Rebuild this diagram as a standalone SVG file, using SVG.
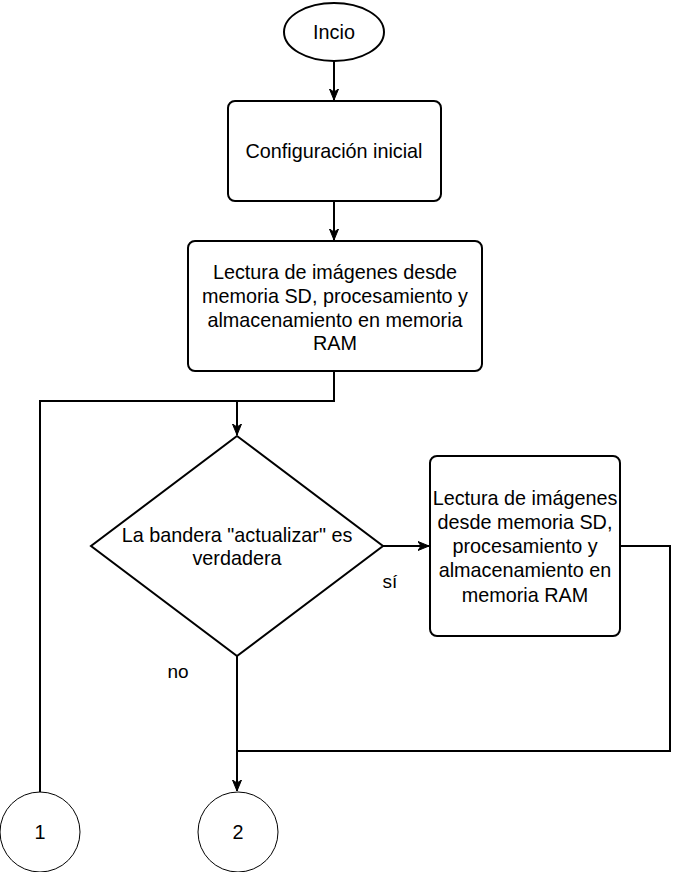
<svg xmlns="http://www.w3.org/2000/svg" width="680" height="872" viewBox="0 0 680 872">
<style>
.shape{fill:#fff;stroke:#000;stroke-width:2}
.thin{fill:#fff;stroke:#000;stroke-width:1}
.conn{fill:none;stroke:#000;stroke-width:2}
text{font-family:"Liberation Sans",Arial,sans-serif;font-size:19.8px;fill:#000;text-anchor:middle}
.lbl{font-size:19px}
</style>
<defs>
<marker id="arr" markerUnits="userSpaceOnUse" markerWidth="12" markerHeight="10" refX="11" refY="5" orient="auto">
<path d="M0,0.5 L11,5 L0,9.5 L3,5 Z" fill="#000" stroke="#000" stroke-width="1"/>
</marker>
</defs>
<rect width="680" height="872" fill="#fff"/>
<g id="connectors">
<line class="conn" x1="334" y1="61" x2="334" y2="100" marker-end="url(#arr)"/>
<line class="conn" x1="334" y1="201" x2="334" y2="240" marker-end="url(#arr)"/>
<polyline class="conn" points="334,371 334,401 40,401 40,792"/>
<line class="conn" x1="237" y1="401" x2="237" y2="435" marker-end="url(#arr)"/>
<line class="conn" x1="383" y1="546" x2="429" y2="546" marker-end="url(#arr)"/>
<polyline class="conn" points="620,546 670,546 670,751 238,751"/>
<line class="conn" x1="237" y1="656" x2="237" y2="791" marker-end="url(#arr)"/>
<text class="lbl" x="390" y="588">sí</text>
<text class="lbl" x="178" y="678">no</text>
</g>
<g id="inicio">
<ellipse class="shape" cx="334" cy="32" rx="50" ry="29"/>
<text x="334" y="39">Incio</text>
</g>
<g id="config">
<rect class="shape" x="228" y="101" width="213" height="100" rx="7"/>
<text x="334" y="158">Configuración inicial</text>
</g>
<g id="lectura1">
<rect class="shape" x="188" y="241" width="294" height="130" rx="7"/>
<text x="335" y="279">Lectura de imágenes desde</text>
<text x="335" y="302.7">memoria SD, procesamiento y</text>
<text x="335" y="326.5">almacenamiento en memoria</text>
<text x="335" y="350">RAM</text>
</g>
<g id="decision">
<polygon class="shape" points="237,436 383,546 237,656 91,546"/>
<text x="237" y="541.5">La bandera "actualizar" es</text>
<text x="237" y="564.5">verdadera</text>
</g>
<g id="lectura2">
<rect class="shape" x="430" y="456" width="190" height="180" rx="7"/>
<text x="525" y="505">Lectura de imágenes</text>
<text x="525" y="529">desde memoria SD,</text>
<text x="525" y="553">procesamiento y</text>
<text x="525" y="577">almacenamiento en</text>
<text x="525" y="601.5">memoria RAM</text>
</g>
<g id="c1">
<circle class="thin" cx="40" cy="832" r="40"/>
<text x="40" y="839">1</text>
</g>
<g id="c2">
<circle class="thin" cx="238" cy="832" r="40"/>
<text x="238" y="839">2</text>
</g>
</svg>
